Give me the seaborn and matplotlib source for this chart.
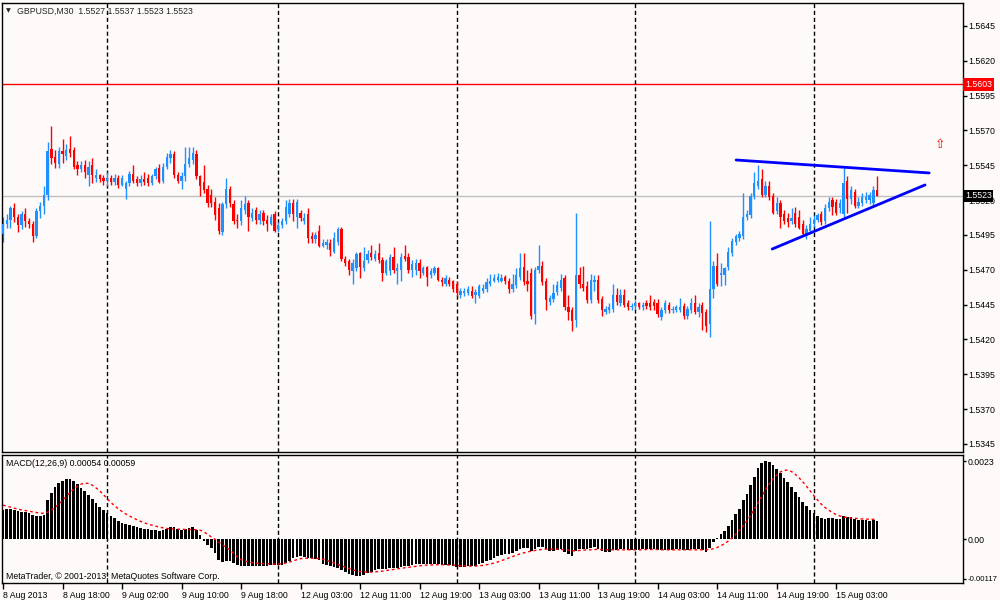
import numpy as np
import matplotlib
matplotlib.use("Agg")
import matplotlib.pyplot as plt
import matplotlib.transforms as mtransforms
import seaborn as sns

sns.set_theme(style="white")
plt.rcParams['font.family'] = ['Liberation Sans', 'DejaVu Sans']

# GBPUSD M30 bars, prices in pips (x 10000)
open_pips = [
    15496, 15503, 15506, 15514, 15508, 15502, 15510, 15505, 15503, 15494,
    15512, 15516, 15524, 15557, 15551, 15546, 15555, 15552, 15557, 15556,
    15545, 15542, 15545, 15538, 15545, 15536, 15538, 15536, 15534, 15536,
    15533, 15536, 15531, 15528, 15532, 15539, 15535, 15532, 15535, 15536,
    15532, 15537, 15543, 15534, 15544, 15550, 15553, 15538, 15534, 15537,
    15546, 15549, 15553, 15537, 15533, 15528, 15524, 15519, 15514, 15497,
    15517, 15528, 15517, 15506, 15505, 15513, 15518, 15507, 15513, 15506,
    15511, 15506, 15503, 15510, 15499, 15502, 15505, 15510, 15518, 15508,
    15511, 15505, 15510, 15494, 15492, 15498, 15487, 15488, 15489, 15483,
    15490, 15499, 15478, 15476, 15469, 15471, 15482, 15471, 15477, 15482,
    15478, 15482, 15477, 15468, 15469, 15479, 15469, 15470, 15480, 15479,
    15470, 15470, 15475, 15468, 15472, 15466, 15468, 15471, 15463, 15460,
    15463, 15462, 15460, 15452, 15453, 15453, 15455, 15452, 15451, 15455,
    15456, 15460, 15462, 15463, 15462, 15465, 15462, 15456, 15459, 15465,
    15472, 15462, 15468, 15438, 15470, 15473, 15462, 15447, 15449, 15454,
    15457, 15464, 15443, 15441, 15434, 15466, 15460, 15458, 15448, 15461,
    15463, 15449, 15440, 15441, 15442, 15452, 15446, 15452, 15446, 15443,
    15444, 15446, 15443, 15446, 15446, 15447, 15446, 15436, 15441, 15445,
    15441, 15441, 15441, 15444, 15437, 15441, 15446, 15440, 15445, 15440,
    15431, 15456, 15473, 15466, 15466, 15472, 15482, 15490, 15493, 15494,
    15508, 15509, 15523, 15530, 15535, 15524, 15530, 15523, 15512, 15518,
    15510, 15507, 15505, 15511, 15508, 15503, 15495, 15498, 15503, 15506,
    15510, 15505, 15514, 15520, 15519, 15514, 15510, 15534, 15521, 15526,
    15516, 15518, 15520, 15520, 15518, 15527]
high_pips = [
    15508, 15510, 15516, 15518, 15510, 15512, 15514, 15507, 15505, 15514,
    15519, 15530, 15562, 15573, 15556, 15558, 15564, 15560, 15566, 15558,
    15548, 15548, 15549, 15548, 15550, 15542, 15539, 15538, 15540, 15538,
    15539, 15538, 15538, 15534, 15541, 15545, 15537, 15538, 15540, 15539,
    15539, 15544, 15546, 15547, 15554, 15556, 15555, 15540, 15540, 15558,
    15558, 15558, 15556, 15538, 15545, 15531, 15528, 15522, 15518, 15519,
    15536, 15530, 15520, 15510, 15520, 15523, 15520, 15514, 15515, 15513,
    15513, 15509, 15510, 15512, 15504, 15507, 15520, 15521, 15521, 15521,
    15513, 15511, 15514, 15497, 15497, 15502, 15492, 15492, 15492, 15497,
    15501, 15501, 15480, 15478, 15478, 15483, 15483, 15486, 15484, 15488,
    15484, 15489, 15479, 15478, 15481, 15486, 15475, 15482, 15488, 15482,
    15477, 15478, 15478, 15473, 15473, 15471, 15473, 15472, 15465, 15466,
    15465, 15463, 15462, 15457, 15457, 15458, 15458, 15456, 15460, 15460,
    15464, 15467, 15467, 15468, 15467, 15466, 15464, 15467, 15471, 15482,
    15482, 15470, 15471, 15472, 15488, 15476, 15464, 15452, 15460, 15462,
    15467, 15466, 15452, 15443, 15511, 15472, 15473, 15462, 15467, 15466,
    15466, 15451, 15444, 15446, 15460, 15457, 15456, 15456, 15448, 15446,
    15448, 15447, 15447, 15448, 15452, 15449, 15449, 15443, 15448, 15447,
    15444, 15445, 15450, 15446, 15444, 15450, 15452, 15446, 15447, 15442,
    15505, 15476, 15482, 15475, 15472, 15486, 15493, 15496, 15498, 15525,
    15513, 15525, 15540, 15545, 15542, 15534, 15534, 15525, 15522, 15520,
    15513, 15511, 15514, 15515, 15513, 15506, 15502, 15508, 15509, 15511,
    15512, 15517, 15522, 15522, 15521, 15521, 15543, 15537, 15530, 15528,
    15522, 15525, 15526, 15526, 15530, 15537]
low_pips = [
    15490, 15500, 15500, 15504, 15497, 15499, 15501, 15500, 15490, 15493,
    15507, 15510, 15520, 15546, 15543, 15543, 15547, 15549, 15551, 15542,
    15538, 15540, 15536, 15530, 15532, 15533, 15533, 15531, 15530, 15531,
    15531, 15529, 15530, 15521, 15530, 15532, 15530, 15530, 15531, 15530,
    15531, 15535, 15532, 15532, 15542, 15547, 15536, 15532, 15528, 15534,
    15544, 15546, 15535, 15523, 15525, 15515, 15515, 15506, 15496, 15495,
    15514, 15515, 15503, 15500, 15502, 15510, 15498, 15505, 15503, 15503,
    15502, 15498, 15502, 15497, 15497, 15500, 15503, 15508, 15505, 15500,
    15505, 15503, 15489, 15489, 15489, 15486, 15486, 15485, 15480, 15482,
    15488, 15476, 15473, 15466, 15460, 15469, 15464, 15469, 15475, 15477,
    15476, 15475, 15462, 15466, 15466, 15468, 15460, 15462, 15476, 15468,
    15465, 15466, 15464, 15466, 15458, 15464, 15466, 15462, 15458, 15458,
    15458, 15454, 15451, 15450, 15451, 15452, 15450, 15446, 15450, 15453,
    15454, 15458, 15461, 15461, 15461, 15460, 15453, 15454, 15457, 15463,
    15459, 15455, 15435, 15431, 15468, 15459, 15441, 15445, 15447, 15452,
    15455, 15441, 15434, 15426, 15429, 15457, 15455, 15446, 15446, 15455,
    15446, 15437, 15438, 15439, 15440, 15445, 15444, 15443, 15441, 15441,
    15442, 15442, 15441, 15442, 15441, 15441, 15436, 15434, 15439, 15439,
    15439, 15440, 15440, 15435, 15435, 15439, 15438, 15436, 15427, 15425,
    15422, 15450, 15458, 15458, 15459, 15470, 15480, 15488, 15491, 15492,
    15506, 15507, 15521, 15528, 15522, 15522, 15520, 15510, 15510, 15500,
    15503, 15501, 15503, 15501, 15499, 15494, 15492, 15497, 15501, 15504,
    15502, 15503, 15512, 15509, 15509, 15511, 15508, 15511, 15517, 15514,
    15514, 15516, 15518, 15517, 15515, 15523]
close_pips = [
    15503, 15506, 15514, 15508, 15502, 15510, 15505, 15503, 15494, 15512,
    15516, 15524, 15555, 15550, 15547, 15555, 15553, 15556, 15554, 15544,
    15542, 15545, 15540, 15544, 15538, 15538, 15535, 15534, 15536, 15533,
    15536, 15531, 15536, 15532, 15539, 15534, 15532, 15535, 15533, 15532,
    15537, 15542, 15533, 15544, 15551, 15553, 15538, 15534, 15537, 15546,
    15550, 15554, 15537, 15530, 15527, 15518, 15518, 15509, 15498, 15517,
    15528, 15518, 15505, 15505, 15514, 15517, 15508, 15511, 15506, 15510,
    15505, 15503, 15508, 15498, 15502, 15505, 15515, 15518, 15510, 15519,
    15507, 15507, 15493, 15492, 15495, 15487, 15489, 15490, 15484, 15493,
    15499, 15478, 15475, 15470, 15475, 15481, 15472, 15476, 15481, 15479,
    15481, 15477, 15468, 15476, 15479, 15470, 15471, 15479, 15478, 15470,
    15474, 15475, 15469, 15471, 15465, 15469, 15471, 15463, 15461, 15464,
    15460, 15456, 15453, 15455, 15455, 15456, 15451, 15454, 15458, 15457,
    15461, 15462, 15464, 15465, 15464, 15462, 15456, 15460, 15466, 15471,
    15461, 15460, 15437, 15470, 15473, 15461, 15448, 15450, 15453, 15459,
    15463, 15443, 15440, 15433, 15466, 15460, 15457, 15448, 15463, 15463,
    15448, 15441, 15442, 15443, 15452, 15447, 15452, 15445, 15443, 15444,
    15446, 15443, 15445, 15444, 15443, 15444, 15438, 15441, 15446, 15441,
    15442, 15443, 15443, 15437, 15442, 15446, 15440, 15443, 15439, 15430,
    15456, 15473, 15460, 15468, 15471, 15483, 15491, 15494, 15496, 15508,
    15510, 15523, 15532, 15534, 15524, 15530, 15522, 15511, 15518, 15508,
    15505, 15504, 15507, 15503, 15500, 15496, 15499, 15503, 15506, 15509,
    15504, 15514, 15519, 15515, 15511, 15518, 15532, 15521, 15527, 15516,
    15519, 15522, 15522, 15524, 15527, 15523]

# MACD(12,26,9) main line (histogram) and signal line
macd_main = [
    0.00088, 0.00090, 0.00091, 0.00088, 0.00084, 0.00082, 0.00080, 0.00077, 0.00072, 0.00068,
    0.00068, 0.00072, 0.00115, 0.00137, 0.00155, 0.00165, 0.00173, 0.00177, 0.00179, 0.00173,
    0.00162, 0.00153, 0.00144, 0.00131, 0.00118, 0.00106, 0.00096, 0.00087, 0.00077, 0.00070,
    0.00062, 0.00055, 0.00049, 0.00044, 0.00042, 0.00039, 0.00035, 0.00033, 0.00031, 0.00029,
    0.00028, 0.00027, 0.00026, 0.00028, 0.00031, 0.00037, 0.00035, 0.00030, 0.00027, 0.00030,
    0.00032, 0.00035, 0.00027, 0.00012, -0.00005, -0.00017, -0.00027, -0.00040, -0.00062, -0.00066,
    -0.00063, -0.00064, -0.00070, -0.00077, -0.00079, -0.00079, -0.00078, -0.00079, -0.00079, -0.00078,
    -0.00078, -0.00078, -0.00077, -0.00077, -0.00077, -0.00076, -0.00070, -0.00064, -0.00055, -0.00051,
    -0.00050, -0.00051, -0.00055, -0.00056, -0.00057, -0.00062, -0.00072, -0.00076, -0.00080, -0.00082,
    -0.00084, -0.00090, -0.00096, -0.00102, -0.00106, -0.00108, -0.00107, -0.00104, -0.00100, -0.00096,
    -0.00090, -0.00088, -0.00089, -0.00088, -0.00085, -0.00084, -0.00084, -0.00081, -0.00078, -0.00078,
    -0.00076, -0.00074, -0.00074, -0.00073, -0.00074, -0.00073, -0.00072, -0.00074, -0.00076, -0.00076,
    -0.00077, -0.00079, -0.00081, -0.00082, -0.00082, -0.00080, -0.00080, -0.00078, -0.00074, -0.00070,
    -0.00065, -0.00060, -0.00055, -0.00050, -0.00045, -0.00043, -0.00043, -0.00040, -0.00035, -0.00028,
    -0.00027, -0.00026, -0.00035, -0.00030, -0.00022, -0.00022, -0.00030, -0.00034, -0.00035, -0.00033,
    -0.00030, -0.00036, -0.00042, -0.00050, -0.00035, -0.00030, -0.00028, -0.00030, -0.00026, -0.00024,
    -0.00028, -0.00034, -0.00036, -0.00036, -0.00032, -0.00031, -0.00029, -0.00030, -0.00032, -0.00032,
    -0.00031, -0.00031, -0.00030, -0.00030, -0.00030, -0.00030, -0.00033, -0.00033, -0.00031, -0.00031,
    -0.00031, -0.00030, -0.00030, -0.00032, -0.00032, -0.00029, -0.00030, -0.00030, -0.00032, -0.00036,
    -0.00025, -0.00008, 0.00005, 0.00015, 0.00025, 0.00040, 0.00058, 0.00075, 0.00090, 0.00115,
    0.00135, 0.00160, 0.00185, 0.00210, 0.00225, 0.00230, 0.00228, 0.00218, 0.00208, 0.00195,
    0.00182, 0.00168, 0.00155, 0.00140, 0.00125, 0.00110, 0.00098, 0.00088, 0.00078, 0.00070,
    0.00062, 0.00060, 0.00062, 0.00063, 0.00060, 0.00060, 0.00068, 0.00066, 0.00065, 0.00060,
    0.00058, 0.00058, 0.00056, 0.00055, 0.00056, 0.00054]
macd_signal = [
    0.00101, 0.00098, 0.00095, 0.00092, 0.00089, 0.00087, 0.00085, 0.00083, 0.00081, 0.00079,
    0.00077, 0.00077, 0.00080, 0.00086, 0.00094, 0.00104, 0.00115, 0.00127, 0.00138, 0.00148,
    0.00157, 0.00163, 0.00166, 0.00165, 0.00160, 0.00152, 0.00143, 0.00132, 0.00120, 0.00109,
    0.00099, 0.00090, 0.00082, 0.00075, 0.00069, 0.00063, 0.00058, 0.00053, 0.00049, 0.00045,
    0.00042, 0.00039, 0.00036, 0.00034, 0.00032, 0.00031, 0.00030, 0.00030, 0.00030, 0.00029,
    0.00029, 0.00029, 0.00028, 0.00027, 0.00022, 0.00015, 0.00007, 0.00000, -0.00008, -0.00016,
    -0.00024, -0.00031, -0.00042, -0.00052, -0.00060, -0.00064, -0.00067, -0.00069, -0.00070, -0.00071,
    -0.00072, -0.00072, -0.00073, -0.00073, -0.00073, -0.00072, -0.00070, -0.00067, -0.00064, -0.00060,
    -0.00057, -0.00056, -0.00056, -0.00056, -0.00056, -0.00057, -0.00059, -0.00062, -0.00066, -0.00070,
    -0.00074, -0.00078, -0.00082, -0.00086, -0.00090, -0.00093, -0.00095, -0.00096, -0.00097, -0.00097,
    -0.00096, -0.00095, -0.00094, -0.00092, -0.00091, -0.00089, -0.00087, -0.00086, -0.00084, -0.00083,
    -0.00081, -0.00080, -0.00078, -0.00077, -0.00076, -0.00076, -0.00075, -0.00075, -0.00075, -0.00075,
    -0.00076, -0.00076, -0.00077, -0.00078, -0.00078, -0.00079, -0.00079, -0.00079, -0.00078, -0.00077,
    -0.00075, -0.00073, -0.00070, -0.00067, -0.00063, -0.00059, -0.00055, -0.00051, -0.00047, -0.00043,
    -0.00040, -0.00037, -0.00035, -0.00033, -0.00031, -0.00030, -0.00029, -0.00029, -0.00029, -0.00029,
    -0.00030, -0.00031, -0.00032, -0.00034, -0.00034, -0.00033, -0.00032, -0.00031, -0.00031, -0.00030,
    -0.00030, -0.00030, -0.00031, -0.00031, -0.00031, -0.00031, -0.00031, -0.00031, -0.00031, -0.00031,
    -0.00031, -0.00031, -0.00031, -0.00030, -0.00030, -0.00030, -0.00030, -0.00031, -0.00031, -0.00031,
    -0.00031, -0.00031, -0.00031, -0.00031, -0.00031, -0.00031, -0.00031, -0.00031, -0.00031, -0.00031,
    -0.00030, -0.00028, -0.00024, -0.00019, -0.00013, -0.00005, 0.00004, 0.00015, 0.00027, 0.00040,
    0.00055, 0.00071, 0.00089, 0.00108, 0.00127, 0.00146, 0.00163, 0.00178, 0.00190, 0.00199,
    0.00204, 0.00204, 0.00200, 0.00192, 0.00182, 0.00170, 0.00157, 0.00143, 0.00129, 0.00116,
    0.00104, 0.00094, 0.00086, 0.00079, 0.00073, 0.00069, 0.00066, 0.00064, 0.00063, 0.00062,
    0.00061, 0.00060, 0.00060, 0.00059, 0.00059, 0.00059]

# time axis labels (every 16 bars) and day separators (bar index)
time_ticks = [0, 16, 32, 48, 64, 80, 96, 112, 128, 144, 160, 176, 192, 208, 224]
time_labels = ["8 Aug 2013", "8 Aug 18:00", "9 Aug 02:00", "9 Aug 10:00", "9 Aug 18:00",
               "12 Aug 03:00", "12 Aug 11:00", "12 Aug 19:00", "13 Aug 03:00", "13 Aug 11:00",
               "13 Aug 19:00", "14 Aug 03:00", "14 Aug 11:00", "14 Aug 19:00", "15 Aug 03:00"]
day_breaks = [28, 74, 122, 170, 218]

price_ticks = [1.5345, 1.5370, 1.5395, 1.5420, 1.5445, 1.5470, 1.5495,
               1.5520, 1.5545, 1.5570, 1.5595, 1.5620, 1.5645]
macd_ticks = [-0.00117, 0.0, 0.0023]
macd_tick_labels = ["-0.00117", "0.00", "0.0023"]

# trend lines drawn on the chart (bar index, price)
top_line_x = [197.1, 249.0]
top_line_y = [1.55488, 1.55395]
bottom_line_x = [206.8, 247.9]
bottom_line_y = [1.54849, 1.55309]

level_red = 1.5603
bid_price = 1.5523

n = len(close_pips)
assert len(open_pips) == n and len(high_pips) == n and len(low_pips) == n
assert len(macd_main) == n and len(macd_signal) == n

o = np.array(open_pips) / 10000
h = np.array(high_pips) / 10000
l = np.array(low_pips) / 10000
c = np.array(close_pips) / 10000
x = np.arange(n)

BG = "#fffafa"
UP = "#1e90ff"
DOWN = "#ff0000"
FS = 6.3

fig = plt.figure(figsize=(10, 6), dpi=100, facecolor=BG)
ax = fig.add_axes([0.002, 1 - 452 / 600, 0.961, 449 / 600], facecolor=BG)
axm = fig.add_axes([0.002, 1 - 583 / 600, 0.961, 128 / 600], facecolor=BG, sharex=ax)

# ---- price pane ----
ax.axhline(bid_price, color="#c0c0c0", lw=1, zorder=1)
ax.axhline(level_red, color="red", lw=1, zorder=1)
for d in day_breaks:
    ax.axvline(d, color="black", lw=1, linestyle=(0, (3, 2)), zorder=1)

up = c >= o
dn = ~up
body = np.maximum(np.abs(c - o), 0.00006)
ax.vlines(x[up], l[up], h[up], color=UP, lw=1, zorder=2)
ax.vlines(x[dn], l[dn], h[dn], color=DOWN, lw=1, zorder=2)
ax.bar(x[up], body[up], bottom=np.minimum(o, c)[up], width=0.62, color=UP, lw=0, zorder=3)
ax.bar(x[dn], body[dn], bottom=np.minimum(o, c)[dn], width=0.62, color=DOWN, lw=0, zorder=3)

sns.lineplot(x=top_line_x, y=top_line_y, ax=ax, color="#0000ff", lw=2, zorder=4)
sns.lineplot(x=bottom_line_x, y=bottom_line_y, ax=ax, color="#0000ff", lw=2, zorder=4)
ax.text(252, 1.5560, "\u21e7", color="red", fontsize=9, ha="center", va="center",
        family=["DejaVu Sans"])

ax.set_xlim(-0.27, 258.1)
ax.set_ylim(1.53392, 1.56615)
ax.yaxis.tick_right()
ax.set_yticks(price_ticks)
ax.set_yticklabels([f"{p:.4f}" for p in price_ticks])
ax.tick_params(axis="y", direction="out", length=3, width=1, labelsize=FS, pad=1,
               colors="black", right=True)
ax.tick_params(axis="x", bottom=False, labelbottom=False)

tr = mtransforms.blended_transform_factory(ax.transAxes, ax.transData)
ax.text(1.002, level_red, "1.5603", transform=tr, color="white", fontsize=FS,
        ha="left", va="center", bbox=dict(fc="red", ec="none", pad=1.2))
ax.text(1.002, bid_price, "1.5523", transform=tr, color="white", fontsize=FS,
        ha="left", va="center", bbox=dict(fc="black", ec="none", pad=1.2))

# ---- MACD pane ----
for d in day_breaks:
    axm.axvline(d, color="black", lw=1, linestyle=(0, (3, 2)), zorder=1)
axm.bar(x, macd_main, width=0.72, color="black", lw=0, zorder=2)
sns.lineplot(x=x, y=macd_signal, ax=axm, color="red", lw=1,
             linestyle=(0, (2, 2)), zorder=3)
axm.set_ylim(-0.00129, 0.00249)
axm.yaxis.tick_right()
axm.set_yticks(macd_ticks)
axm.set_yticklabels(macd_tick_labels)
axm.tick_params(axis="y", direction="out", length=2, width=1, labelsize=FS, pad=1,
                colors="black", right=True)
axm.get_yticklabels()[0].set_fontsize(5.6)
axm.set_xticks(time_ticks)
axm.set_xticklabels(time_labels)
for lab in axm.get_xticklabels():
    lab.set_horizontalalignment("left")
axm.tick_params(axis="x", direction="out", length=4, width=1, labelsize=FS, pad=2,
                colors="black", bottom=True)
axm.set_xlabel("")
axm.set_ylabel("")
ax.set_xlabel("")
ax.set_ylabel("")

for a in (ax, axm):
    for s in a.spines.values():
        s.set_color("black")
        s.set_linewidth(1)
    a.grid(False)

axm.text(0.004, 0.93, "MACD(12,26,9) 0.00054 0.00059", transform=axm.transAxes,
         fontsize=FS, ha="left", va="center", color="black")
axm.text(0.004, 0.05, "MetaTrader, \u00a9 2001-2013, MetaQuotes Software Corp.",
         transform=axm.transAxes, fontsize=FS, ha="left", va="center", color="black")

fig.text(0.006, 1 - 11 / 600, "\u25bc", fontsize=4.5, ha="left", va="center",
         family=["DejaVu Sans"])
fig.text(0.017, 1 - 11 / 600, "GBPUSD,M30  1.5527 1.5537 1.5523 1.5523",
         fontsize=FS, ha="left", va="center")

fig.savefig("out.png", dpi=100, facecolor=BG)
